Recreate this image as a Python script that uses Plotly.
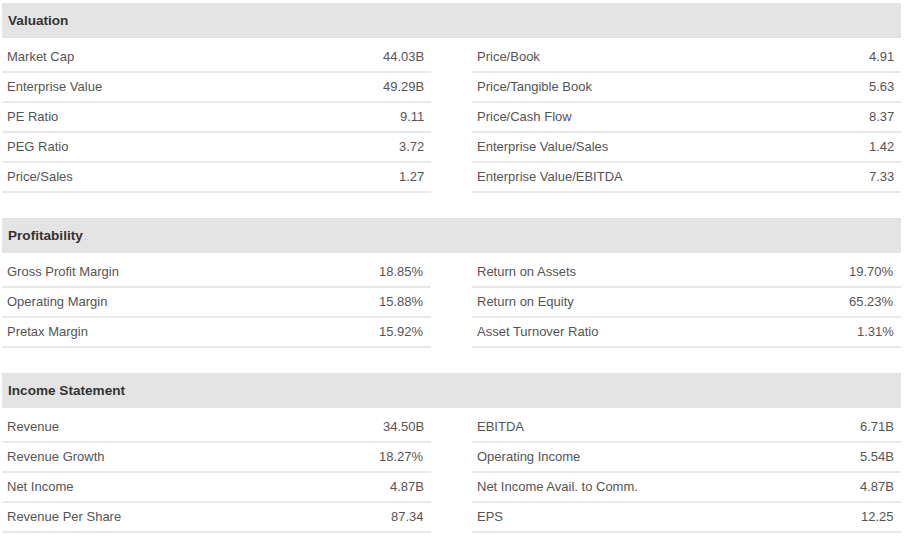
import plotly.graph_objects as go

# table contents
sections = ['Valuation', 'Profitability', 'Income Statement']

valuation_left = ['Market Cap', 'Enterprise Value', 'PE Ratio', 'PEG Ratio', 'Price/Sales']
valuation_left_vals = ['44.03B', '49.29B', '9.11', '3.72', '1.27']
valuation_right = ['Price/Book', 'Price/Tangible Book', 'Price/Cash Flow',
                   'Enterprise Value/Sales', 'Enterprise Value/EBITDA']
valuation_right_vals = ['4.91', '5.63', '8.37', '1.42', '7.33']

profit_left = ['Gross Profit Margin', 'Operating Margin', 'Pretax Margin']
profit_left_vals = ['18.85%', '15.88%', '15.92%']
profit_right = ['Return on Assets', 'Return on Equity', 'Asset Turnover Ratio']
profit_right_vals = ['19.70%', '65.23%', '1.31%']

income_left = ['Revenue', 'Revenue Growth', 'Net Income', 'Revenue Per Share']
income_left_vals = ['34.50B', '18.27%', '4.87B', '87.34']
income_right = ['EBITDA', 'Operating Income', 'Net Income Avail. to Comm.', 'EPS']
income_right_vals = ['6.71B', '5.54B', '4.87B', '12.25']

blocks = [
    (valuation_left, valuation_left_vals, valuation_right, valuation_right_vals),
    (profit_left, profit_left_vals, profit_right, profit_right_vals),
    (income_left, income_left_vals, income_right, income_right_vals),
]

W, H = 915, 537
HEADER_H = 35
ROW_H = 30
SECTION_GAP = 26
LEFT_COL = (2, 431)
RIGHT_COL = (472, 901)

shapes = []
annotations = []
font = 'Arial, Liberation Sans, sans-serif'

y = 3
for title, (l_lab, l_val, r_lab, r_val) in zip(sections, blocks):
    shapes.append(dict(type='rect', xref='x', yref='y', x0=2, x1=901, y0=y, y1=y + HEADER_H,
                       fillcolor='#e4e4e4', line=dict(width=0), layer='below'))
    annotations.append(dict(x=6, y=y + HEADER_H / 2, xref='x', yref='y', text='<b>' + title + '</b>',
                            showarrow=False, xanchor='left', yanchor='middle',
                            font=dict(family=font, size=13.6, color='#333333')))
    y += HEADER_H + 4
    for i in range(len(l_lab)):
        cy = y + ROW_H / 2 - 1
        for (x0, x1), lab, val in [(LEFT_COL, l_lab[i], l_val[i]), (RIGHT_COL, r_lab[i], r_val[i])]:
            annotations.append(dict(x=x0 + 3, y=cy, xref='x', yref='y', text=lab, showarrow=False,
                                    xanchor='left', yanchor='middle',
                                    font=dict(family=font, size=13, color='#555555')))
            annotations.append(dict(x=x1 - 5, y=cy, xref='x', yref='y', text=val, showarrow=False,
                                    xanchor='right', yanchor='middle',
                                    font=dict(family=font, size=13, color='#555555')))
            shapes.append(dict(type='line', xref='x', yref='y', x0=x0, x1=x1, y0=y + ROW_H, y1=y + ROW_H,
                               line=dict(color='#d2d2d2', width=1)))
        y += ROW_H
    y += SECTION_GAP

fig = go.Figure()
fig.update_layout(
    width=W, height=H,
    margin=dict(l=0, r=0, t=0, b=0),
    paper_bgcolor='white', plot_bgcolor='white',
    xaxis=dict(range=[0, W], visible=False, fixedrange=True),
    yaxis=dict(range=[H, 0], visible=False, fixedrange=True),
    shapes=shapes,
    annotations=annotations,
    showlegend=False,
)

# drop the page's default body margin so the figure sits at the top-left corner
fig.write_html("out.html", config={'displayModeBar': False},
               post_script="document.body.style.margin='0';document.body.style.overflow='hidden';")
